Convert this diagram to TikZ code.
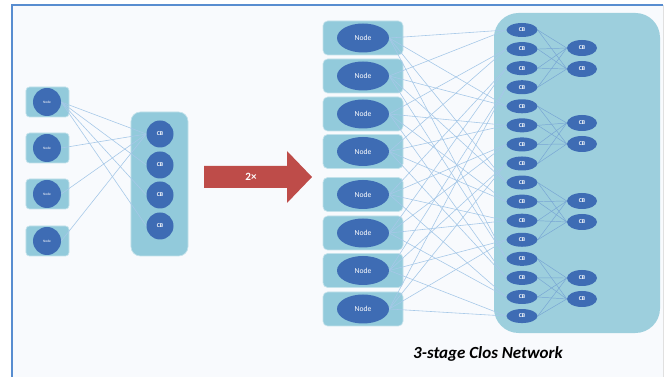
\documentclass[tikz,border=0pt]{standalone}
\usepackage{fontspec}
\setmainfont{Carlito}
\usepackage{xcolor}
\usepackage{tikz}
\usetikzlibrary{shapes.geometric}
\definecolor{pagetint}{RGB}{248,250,253}
\definecolor{framblue}{RGB}{88,141,208}
\definecolor{boxblue}{RGB}{146,202,219}
\definecolor{panelblue}{RGB}{157,207,221}
\definecolor{nodeblue}{RGB}{62,108,180}
\definecolor{wireblue}{RGB}{166,200,232}
\definecolor{wiredark}{RGB}{120,165,212}
\definecolor{arrowred}{RGB}{190,76,73}
\pgfdeclarelayer{page}
\pgfdeclarelayer{back}
\pgfdeclarelayer{wires}
\pgfsetlayers{page,back,wires,main}

\begin{document}
\begin{tikzpicture}[x=0.03cm,y=-0.03cm,
  every node/.style={inner sep=0pt},
  smallbox/.style={fill=boxblue, draw=boxblue!55!white, line width=0.6pt, rounded corners=3pt, minimum width=1.29cm, minimum height=0.9cm},
  smallhost/.style={circle, fill=nodeblue, text=white, minimum size=0.84cm, font=\fontsize{3}{3}\selectfont},
  smallcb/.style={circle, fill=nodeblue, text=white, minimum size=0.81cm, font=\bfseries\fontsize{5}{5}\selectfont},
  panel/.style={fill=panelblue},
  hostbox/.style={fill=boxblue, draw=boxblue!55!white, line width=0.6pt, rounded corners=4pt, minimum width=2.4cm, minimum height=1.02cm},
  host/.style={ellipse, fill=nodeblue, text=white, minimum width=1.56cm, minimum height=0.87cm, font=\fontsize{6.5}{6.5}\selectfont},
  cb/.style={ellipse, fill=nodeblue, text=white, minimum width=0.93cm, minimum height=0.42cm, font=\bfseries\fontsize{5}{5}\selectfont},
  cbout/.style={cb, minimum width=0.9cm, minimum height=0.48cm},
  wire/.style={draw=wireblue, line width=0.5pt},
  wire2/.style={draw=wiredark, line width=0.4pt}]
\useasboundingbox (0,0) rectangle (667,377);
% page and frame
\begin{pgfonlayer}{page}
\fill[white] (0,0) rectangle (667,377);
\fill[pagetint] (12,5) rectangle (663,377);
\draw[black!12, line width=0.4pt] (663,5) -- (663,377);
\draw[framblue, line width=1.6pt] (12,377) -- (12,5) -- (663,5);
\end{pgfonlayer}

% left: four nodes, one CB column
\begin{pgfonlayer}{back}
\foreach \y [count=\i] in {102,148,194,241}
  \node[smallbox] (sbox\i) at (47.5,\y) {};
\node[panel, fill=boxblue, draw=boxblue!55!white, line width=0.6pt, rounded corners=8pt, minimum width=1.71cm, minimum height=4.32cm] (spanel) at (159.5,184) {};
\end{pgfonlayer}
\foreach \y [count=\i] in {102,148,194,241}
  \node[smallhost] (s\i) at (47,\y) {Node};
\foreach \y [count=\i] in {134,165,195,226}
  \node[smallcb] (c\i) at (160,\y) {CB};
\begin{pgfonlayer}{wires}
\foreach \i in {1,...,4} \draw[wire] (s1.east) -- (c\i.west);
\foreach \i in {2,...,4} \draw[wire] (s\i.east) -- (c1.west);
\end{pgfonlayer}

% doubling arrow
\fill[arrowred] (204,166) -- (287,166) -- (287,151) -- (312,177) -- (287,203) -- (287,188) -- (204,188) -- cycle;
\node[text=white, font=\bfseries\fontsize{9.5}{9.5}\selectfont] (twice) at (251,177) {2×};

% right: 8 nodes, 16 + 8 CBs
\begin{pgfonlayer}{back}
\node[panel, rounded corners=21pt, minimum width=4.98cm, minimum height=9.6cm] (bigpanel) at (577,173) {};
\foreach \y [count=\i] in {38,76,114,151.5,194.5,233,270.5,309}
  \node[hostbox] (hbox\i) at (363,\y) {};
\end{pgfonlayer}
\foreach \y [count=\i] in {38,76,114,151.5,194.5,233,270.5,309}
  \node[host] (h\i) at (363,\y) {Node};
\foreach \i in {1,...,16}
  \node[cb] (m\i) at (522,{30+19.07*(\i-1)}) {CB};
\foreach \y [count=\i] in {48,69,123,144,201,222,278,299}
  \node[cbout] (o\i) at (582,\y) {CB};
\begin{pgfonlayer}{wires}
% each node goes to one CB per group
\foreach \k in {1,...,8}
  \foreach \g in {0,...,3} {
    \pgfmathtruncatemacro\t{4*\g+int((\k-1)/2)+1}
    \draw[wire] (h\k.east) -- (m\t.west);
  }
% each group goes to its pair
\foreach \g in {0,...,3}
  \foreach \j in {1,...,4}
    \foreach \p in {1,2} {
      \pgfmathtruncatemacro\a{4*\g+\j}
      \pgfmathtruncatemacro\b{2*\g+\p}
      \draw[wire2] (m\a.east) -- (o\b.west);
    }
\end{pgfonlayer}

% caption
\node[font=\bfseries\itshape\fontsize{14.5}{16}\selectfont] (caption) at (488,354) {3-stage Clos Network};
\end{tikzpicture}
\end{document}
